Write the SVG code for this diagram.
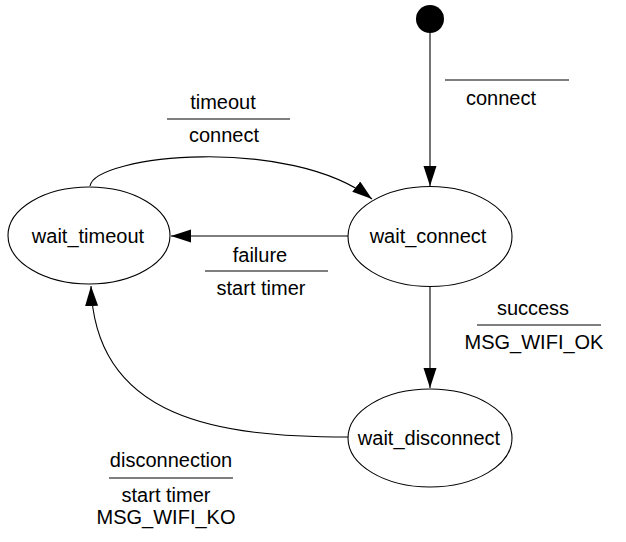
<svg xmlns="http://www.w3.org/2000/svg" width="626" height="542" viewBox="0 0 626 542">
<style>
.n{fill:#fff;stroke:#000;stroke-width:1.1}
.e{fill:none;stroke:#000;stroke-width:1.1}
.t{font-family:"Liberation Sans",Arial,sans-serif;font-size:20px;fill:#000;text-anchor:middle}
.bar{stroke:#000;stroke-width:1.1}
</style>
<defs>
<marker id="ah" markerUnits="userSpaceOnUse" markerWidth="21" markerHeight="14" refX="20" refY="6.5" orient="auto">
<path d="M0,0 L20,6.5 L0,13 z" fill="#000"/>
</marker>
</defs>
<rect width="626" height="542" fill="#fff"/>
<g id="connectors">
<line class="e" x1="430" y1="33" x2="430" y2="186" marker-end="url(#ah)"/>
<line class="e" x1="430" y1="286" x2="430" y2="388" marker-end="url(#ah)"/>
<line class="e" x1="348" y1="236" x2="171" y2="236" marker-end="url(#ah)"/>
<path class="e" d="M90,186 C95,155 290,135 372,199" marker-end="url(#ah)"/>
<path class="e" d="M348,437 C220,437 95,420 91,286" marker-end="url(#ah)"/>
<g id="label-init">
<line class="bar" x1="445" y1="80" x2="569" y2="80"/>
<text class="t" x="501" y="105">connect</text>
</g>
<g id="label-success">
<text class="t" x="533" y="315">success</text>
<line class="bar" x1="477" y1="325" x2="601" y2="325"/>
<text class="t" x="534" y="349">MSG_WIFI_OK</text>
</g>
<g id="label-timeout">
<text class="t" x="223" y="109">timeout</text>
<line class="bar" x1="167" y1="119" x2="290" y2="119"/>
<text class="t" x="224" y="142">connect</text>
</g>
<g id="label-failure">
<text class="t" x="260" y="262">failure</text>
<line class="bar" x1="205" y1="271" x2="328" y2="271"/>
<text class="t" x="261" y="295">start timer</text>
</g>
<g id="label-disconnection">
<text class="t" x="171" y="467">disconnection</text>
<line class="bar" x1="109" y1="478" x2="233" y2="478"/>
<text class="t" x="166" y="502">start timer</text>
<text class="t" x="166" y="524">MSG_WIFI_KO</text>
</g>
</g>
<g id="initial">
<circle cx="430" cy="19" r="14" fill="#000"/>
</g>
<g id="wait_connect">
<ellipse class="n" cx="430" cy="236.5" rx="82" ry="50"/>
<text class="t" x="428" y="243">wait_connect</text>
</g>
<g id="wait_timeout">
<ellipse class="n" cx="89" cy="235.5" rx="81" ry="48.5"/>
<text class="t" x="88" y="243">wait_timeout</text>
</g>
<g id="wait_disconnect">
<ellipse class="n" cx="430" cy="438" rx="82" ry="49"/>
<text class="t" x="429" y="445">wait_disconnect</text>
</g>
</svg>
